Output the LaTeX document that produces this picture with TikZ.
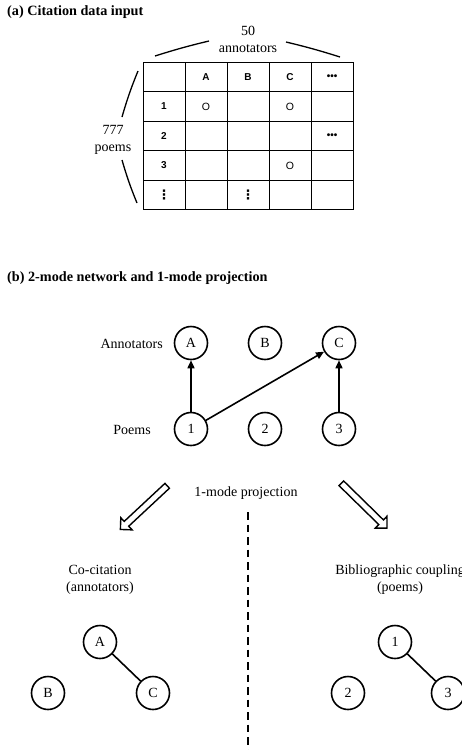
\documentclass[tikz,border=0pt]{standalone}
\usepackage{fontspec}
\setmainfont{Liberation Serif}
\newfontfamily\tabfont{Liberation Sans}
\newfontfamily\dotfont{DejaVu Sans}
\usetikzlibrary{arrows.meta,shapes.arrows}
\begin{document}
\begin{tikzpicture}[x=1pt,y=-1pt,
  title/.style={anchor=west,inner sep=0,font=\fontsize{14.2}{16}\selectfont\bfseries},
  lbl/.style={inner sep=0,font=\fontsize{14}{17}\selectfont},
  cell/.style={inner sep=0,font=\tabfont\fontsize{10}{12}\selectfont\bfseries},
  tick/.style={inner sep=0,font=\tabfont\fontsize{10.5}{12}\selectfont},
  vdot/.style={inner sep=0,font=\dotfont\fontsize{13}{14}\selectfont\bfseries},
  nd/.style={circle,draw,line width=1.6pt,minimum size=33pt,inner sep=0,
    font=\fontsize{14}{16}\selectfont},
  link/.style={line width=1.6pt,-{Triangle[length=8pt,width=7pt]}},
  edge/.style={line width=1.6pt},
  brace/.style={line width=1.3pt},
  bigarrow/.style={single arrow,draw,line width=1.4pt,minimum height=64pt,
    minimum width=16pt,inner sep=2.6pt,single arrow head extend=5pt,
    single arrow tip angle=90}]
\useasboundingbox (0,0) rectangle (461,750);

% ---------- (a) citation matrix ----------
\node[title] (ta) at (7,12) {(a) Citation data input};

\draw[line width=0.9pt] (143,62) rectangle (353,209);
\foreach \x in {185,227,269,311} \draw[line width=0.9pt] (\x,62) -- (\x,209);
\foreach \y in {91.5,121,150.5,180} \draw[line width=0.9pt] (143,\y) -- (353,\y);

\node[cell] (hA) at (206,77) {A};
\node[cell] (hB) at (248,77) {B};
\node[cell] (hC) at (290,77) {C};
\node[cell] (hD) at (332,77) {•••};
\node[cell] (r1) at (164,106.5) {1};
\node[cell] (r2) at (164,136) {2};
\node[cell] (r3) at (164,165.5) {3};
\node[vdot] (r4) at (164,194.5) {⋮};
\node[tick] (m1A) at (206,106.5) {O};
\node[tick] (m1C) at (290,106.5) {O};
\node[cell] (m2D) at (332,136) {•••};
\node[tick] (m3C) at (290,165.5) {O};
\node[vdot] (m4B) at (248,194.5) {⋮};

\node[lbl,align=center] (ann) at (248,39) {50\\annotators};
\node[lbl,align=center] (poe) at (113,139.5) {777\\poems};

\coordinate (t1) at (155,56); \coordinate (t2) at (209,41);
\coordinate (t3) at (286,42); \coordinate (t4) at (340,57);
\coordinate (l1) at (138,71); \coordinate (l2) at (122,117);
\coordinate (l3) at (122,160); \coordinate (l4) at (137,203);
\draw[brace] (t1) to[bend left=2] (t2);
\draw[brace] (t3) to[bend left=2] (t4);
\draw[brace] (l1) to[bend right=3] (l2);
\draw[brace] (l3) to[bend right=3] (l4);

% ---------- (b) 2-mode network ----------
\node[title] (tb) at (7,278) {(b) 2-mode network and 1-mode projection};

\node[nd] (A) at (191,343) {A};
\node[nd] (B) at (265,343) {B};
\node[nd] (C) at (339,343) {C};
\node[nd] (P1) at (191,429) {1};
\node[nd] (P2) at (265,429) {2};
\node[nd] (P3) at (339,429) {3};
\node[lbl,anchor=east] (annl) at (163,344) {Annotators};
\node[lbl,anchor=east] (poel) at (151,430) {Poems};

\draw[link] (P1) -- (A);
\draw[link] (P1) -- (C);
\draw[link] (P3) -- (C);

% ---------- 1-mode projection ----------
\node[lbl] (proj) at (246,493) {1-mode projection};
\node[bigarrow,rotate=223] (arL) at (145,506.5) {};
\node[bigarrow,rotate=-44.4] (arR) at (363,504.5) {};

\coordinate (dtop) at (248,512);
\coordinate (dbot) at (248,750);
\draw[line width=2pt,dash pattern=on 7.5pt off 5pt] (dtop) -- (dbot);

\node[lbl,align=center] (cocit) at (100,580) {Co-citation\\(annotators)};
\node[lbl,align=center] (bib) at (400,580) {Bibliographic coupling\\(poems)};

\node[nd] (qA) at (100,642) {A};
\node[nd] (qB) at (48,693) {B};
\node[nd] (qC) at (153,693) {C};
\draw[edge] (qA) -- (qC);

\node[nd] (q1) at (395,642) {1};
\node[nd] (q2) at (348,693) {2};
\node[nd] (q3) at (448,693) {3};
\draw[edge] (q1) -- (q3);
\end{tikzpicture}
\end{document}
